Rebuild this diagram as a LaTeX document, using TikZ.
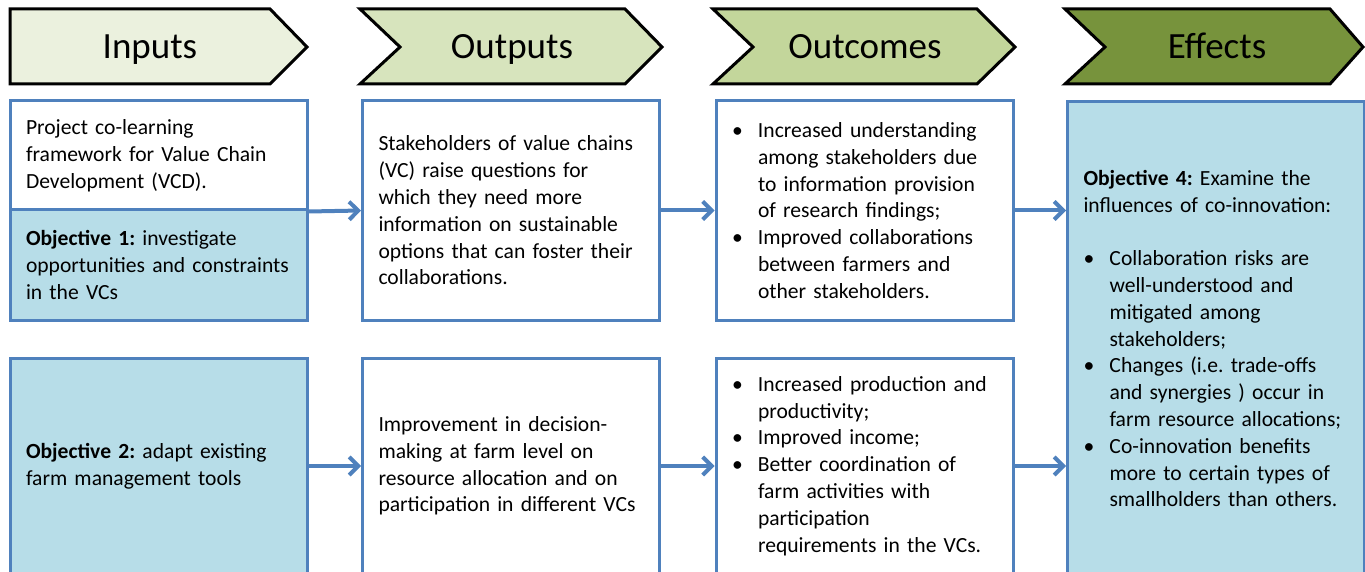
\documentclass[tikz,border=0pt]{standalone}
\usepackage{fontspec}
\setmainfont{Carlito}
\usepackage{xcolor}
\usetikzlibrary{arrows.meta}

\definecolor{boxblue}{HTML}{4F81BD}
\definecolor{objfill}{HTML}{B7DDE8}
\definecolor{inputfill}{HTML}{EBF1DE}
\definecolor{outputfill}{HTML}{D7E4BD}
\definecolor{outcomefill}{HTML}{C3D69B}
\definecolor{effectfill}{HTML}{77933C}

\newcommand{\bitem}{\makebox[13pt][l]{\textbullet}}
\newcommand{\bind}{\hspace*{13pt}}
\newcommand{\boxfont}{\fontsize{10.8}{13.4}\selectfont\frenchspacing\hyphenpenalty=10000\relax}

\begin{document}
\begin{tikzpicture}[x=0.5pt, y={(0pt,-0.5pt)},
  hdr/.style={font=\fontsize{18.5}{22}\selectfont, inner sep=0pt, anchor=base},
  chev/.style={draw=black, line width=1.5pt, line join=miter},
  infobox/.style={draw=boxblue, line width=1.5pt, fill=white, rectangle,
    minimum width=148.5pt, text width=132.5pt, inner xsep=8pt, inner ysep=0pt,
    align=left, font=\boxfont},
  objbox/.style={infobox, fill=objfill},
  flow/.style={draw=boxblue, line width=2pt, -{Straight Barb[length=4.5pt,width=9pt]}}]

\useasboundingbox (0,0) rectangle (1365,572);
\clip (0,0) rectangle (1365,572);


\draw[chev, fill=inputfill] (10,9) -- (270,9) -- (307,47) -- (270,84) -- (10,84) -- cycle;
\draw[chev, fill=outputfill] (360,9) -- (625,9) -- (662,47) -- (625,84) -- (360,84) -- (400,47) -- cycle;
\draw[chev, fill=outcomefill] (713,9) -- (977,9) -- (1015,47) -- (977,84) -- (713,84) -- (753,47) -- cycle;
\draw[chev, fill=effectfill] (1065,9) -- (1330,9) -- (1363,47) -- (1330,84) -- (1065,84) -- (1105,47) -- cycle;

\node[hdr] (hdIn) at (150,59) {Inputs};
\node[hdr] (hdOut) at (512,59) {Outputs};
\node[hdr] (hdOc) at (865,59) {Outcomes};
\node[hdr] (hdEff) at (1217,59) {Effects};


\node[infobox, minimum height=54.5pt] (inA) at (158.5,155.5)
  {Project  co-learning\\ framework for Value Chain\\ Development (VCD).};
\node[objbox, minimum height=55pt] (inB) at (158.5,265)
  {\textbf{Objective 1:} investigate\\ opportunities and constraints\\ in the VCs};

\node[infobox, minimum height=109.5pt] (out1) at (511,210.5)
  {Stakeholders of value chains\\ (VC)  raise questions for\\ which they need more\\
   information on  sustainable\\ options that can foster their\\ collaborations.};

\node[infobox, minimum height=109.5pt] (oc1) at (864.5,210.5)
  {\bitem Increased understanding\\ \bind among stakeholders due\\
   \bind to information provision\\ \bind of research findings;\\
   \bitem Improved collaborations\\ \bind between farmers and\\ \bind other stakeholders.};


\node[objbox, minimum height=108pt] (in2) at (158.5,466)
  {\textbf{Objective 2:} adapt existing\\ farm management tools};

\node[infobox, minimum height=108pt] (out2) at (511,466)
  {Improvement in decision-\\ making at farm level on\\ resource allocation and on\\
   participation in different VCs};

\node[infobox, minimum height=108pt] (oc2) at (864.5,466)
  {\bitem Increased production and\\ \bind productivity;\\ \bitem Improved income;\\
   \bitem Better coordination of\\ \bind farm activities with\\ \bind participation\\
   \bind requirements in  the VCs.};


\node[objbox, minimum height=236.5pt] (eff) at (1216,338.5)
  {\textbf{Objective 4:} Examine the\\ influences of co-innovation:\\[13.4pt]
   \bitem Collaboration risks are\\ \bind well-understood and\\ \bind mitigated among\\
   \bind stakeholders;\\ \bitem Changes (i.e. trade-offs\\ \bind and synergies ) occur in\\
   \bind farm resource allocations;\\ \bitem Co-innovation benefits\\
   \bind more to certain types of\\ \bind smallholders  than others.};


\draw[flow] (inA.south east) -- (out1.west);
\draw[flow] (out1.east) -- (oc1.west);
\draw[flow] (oc1.east) -- (eff.west |- oc1.east);

\draw[flow] (in2.east) -- (out2.west);
\draw[flow] (out2.east) -- (oc2.west);
\draw[flow] (oc2.east) -- (eff.west |- oc2.east);

\end{tikzpicture}
\end{document}
